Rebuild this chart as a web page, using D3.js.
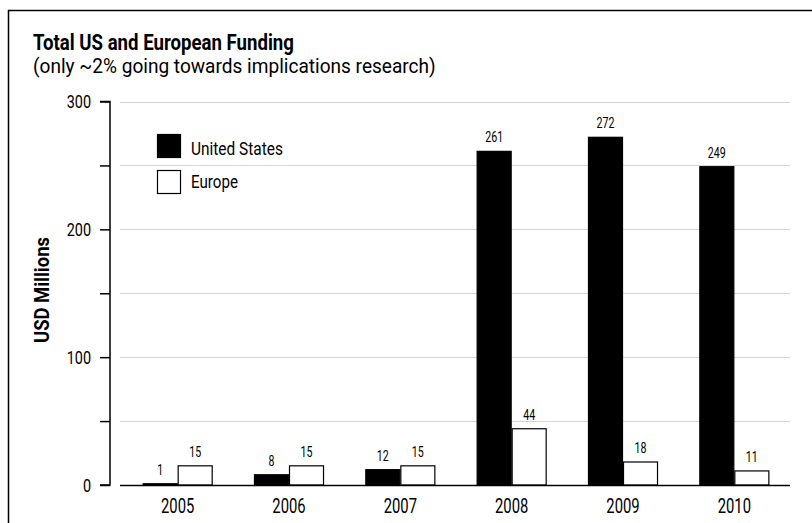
<!DOCTYPE html>
<html><head><meta charset="utf-8">
<script src="https://cdn.jsdelivr.net/npm/d3@7"></script>
<style>
html,body{margin:0;padding:0;background:#fff;}
svg{display:block;}
text{font-family:Roboto,"Liberation Sans",sans-serif;fill:#000;}
</style></head>
<body>
<svg id="chart" width="812" height="523"></svg>
<script>
const years = ["2005","2006","2007","2008","2009","2010"];
const usValues = [1, 8, 12, 261, 272, 249];
const europeValues = [15, 15, 15, 44, 18, 11];
const seriesNames = ["United States", "Europe"];
const seriesColors = ["#000", "#fff"];
const yTicks = [0, 50, 100, 150, 200, 250, 300];
const yLabels = [0, 100, 200, 300];

const svg = d3.select("#chart");
const SX = 0.76; // condensed look

// condensed text helper
function cText(parent, o){
  const g = parent.append("g").attr("transform", `translate(${o.x},${o.y})${o.rotate?` rotate(${o.rotate})`:""}`);
  const t = g.append("text").attr("font-size", o.size).attr("font-weight", o.weight||"normal")
    .attr("text-anchor", o.anchor||"start").text(o.text);
  let sx = o.sx || SX;
  if (o.width) sx = o.width / t.node().getComputedTextLength();
  t.attr("transform", `scale(${sx},1)`);
  return t;
}

// frame
svg.append("path").attr("d","M8.5,523 V10.5 H812").attr("fill","none").attr("stroke","#000").attr("stroke-width",1.5);

cText(svg,{x:33,y:50,text:"Total US and European Funding",size:22,weight:"bold",width:261});
cText(svg,{x:33,y:73,text:"(only ~2% going towards implications research)",size:20,width:403});

const y = d3.scaleLinear().domain([0,300]).range([485,101.5]);
const x0 = d3.scaleBand().domain(years).range([122,790]).paddingInner(0.371).paddingOuter(0.1855);
const x1 = d3.scaleBand().domain(seriesNames).range([0,x0.bandwidth()]);

// gridlines
svg.append("g").selectAll("line").data(yTicks.filter(d=>d>0)).join("line")
  .attr("x1",120).attr("x2",790).attr("y1",d=>Math.round(y(d))+0.5).attr("y2",d=>Math.round(y(d))+0.5)
  .attr("stroke","#d4d4d4").attr("stroke-width",1.2);

// y axis
const yAxis = d3.axisLeft(y).tickValues(yTicks).tickSize(10).tickFormat(d=>yLabels.includes(d)?d:"");
const gy = svg.append("g").attr("transform","translate(110,0)").call(yAxis);
gy.select(".domain").attr("stroke","#000").attr("stroke-width",1.5).attr("d","M-10,"+y(300)+"H0V"+y(0)+"H-10");
gy.selectAll(".tick line").attr("stroke","#000").attr("stroke-width",1.5);
gy.selectAll(".tick text").attr("x",-19/SX).attr("font-size",19).attr("font-family",null).attr("fill","#000")
  .attr("transform",`scale(${SX},1)`);

cText(svg,{x:49,y:290,rotate:-90,text:"USD Millions",size:21,weight:"bold",anchor:"middle",width:106});

const data = years.map((yr,i)=>({year:yr, vals:[{s:seriesNames[0],v:usValues[i],c:seriesColors[0]},{s:seriesNames[1],v:europeValues[i],c:seriesColors[1]}]}));

const groups = svg.append("g").selectAll("g").data(data).join("g").attr("transform",d=>`translate(${x0(d.year)},0)`);
groups.selectAll("rect").data(d=>d.vals).join("rect")
  .attr("x",d=>x1(d.s)+0.5).attr("width",x1.bandwidth()-1)
  .attr("y",d=>y(d.v)).attr("height",d=>y(0)-y(d.v))
  .attr("fill",d=>d.c).attr("stroke","#000").attr("stroke-width",1.2);
groups.each(function(d){
  const g = d3.select(this);
  d.vals.forEach(v=>{
    cText(g,{x:x1(v.s)+x1.bandwidth()/2,y:y(v.v)-9,text:String(v.v),size:14,anchor:"middle"});
  });
});

// baseline
svg.append("line").attr("x1",120).attr("x2",790).attr("y1",485.5).attr("y2",485.5).attr("stroke","#000").attr("stroke-width",1.5);

// x labels
years.forEach(yr=>{
  cText(svg,{x:x0(yr)+x0.bandwidth()/2,y:513,text:yr,size:19.5,anchor:"middle"});
});

// legend
const lg = svg.append("g").attr("transform","translate(157,134)");
const legendWidths = [92, 47];
seriesNames.forEach((s,i)=>{
  lg.append("rect").attr("x",0.5).attr("y",i*36+0.5).attr("width",23).attr("height",23).attr("fill",seriesColors[i]).attr("stroke","#000").attr("stroke-width",1.2);
  cText(lg,{x:34,y:i*33+21,text:s,size:19,width:legendWidths[i]});
});
</script>
</body></html>
